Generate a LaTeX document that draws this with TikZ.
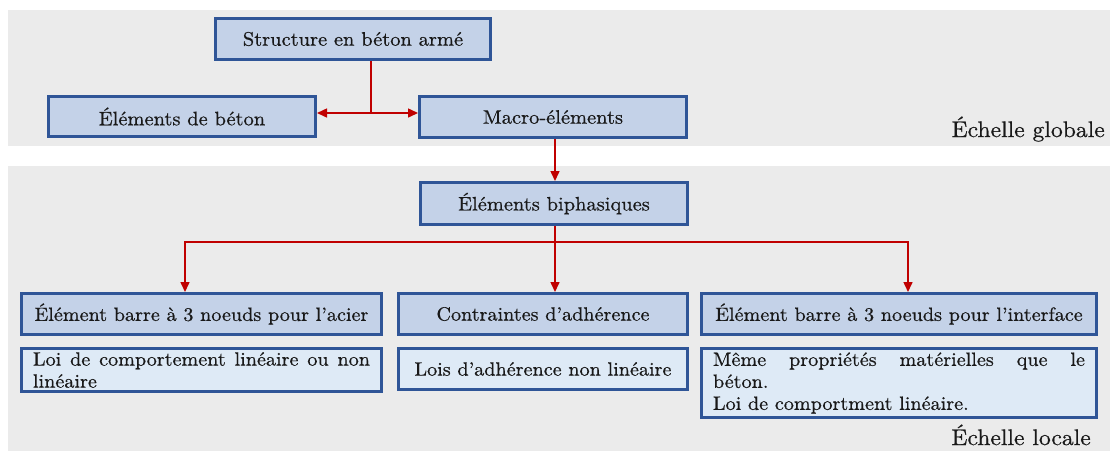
\documentclass[tikz,border=0pt]{standalone}
\usepackage{fontspec}
\setmainfont{lmroman10-regular.otf}[FakeStretch=1.05,FakeBold=0.6]
\usetikzlibrary{arrows.meta}
\definecolor{bdr}{RGB}{47,85,151}
\definecolor{fillA}{RGB}{196,210,232}
\definecolor{fillB}{RGB}{222,234,246}
\definecolor{panel}{RGB}{235,235,235}
\definecolor{arr}{RGB}{192,0,0}
\definecolor{txt}{RGB}{25,25,25}
\tikzset{
  boxA/.style={draw=bdr, line width=3pt, fill=fillA, inner sep=0pt, text=txt, font=\fontsize{19.5}{23}\selectfont},
  boxL/.style={draw=bdr, line width=3pt, fill=fillA, inner sep=0pt, text=txt, font=\fontsize{19.2}{22}\selectfont},
  boxT/.style={draw=bdr, line width=3pt, fill=fillB, inner xsep=11.5pt, inner ysep=0pt, align=justify, text=txt, font=\fontsize{19.2}{22}\selectfont},
  conn/.style={draw=arr, line width=1.5pt},
  connA/.style={conn, -{Triangle[length=10pt,width=9pt]}},
  scalelbl/.style={font=\fontsize{22.5}{26}\selectfont, text=txt, anchor=base east, inner sep=0pt}
}
\begin{document}
\begin{tikzpicture}[x=1pt,y=-1pt]
\useasboundingbox (0,0) rectangle (1110,451);
\fill[white] (0,0) rectangle (1110,451);
\fill[panel] (8,10) rectangle (1110,146);
\fill[panel] (8,166) rectangle (1110,451);

\node[boxA, minimum width=275pt, minimum height=41pt] (S) at (353,39) {Structure en béton armé};
\node[boxA, minimum width=267pt, minimum height=40pt] (EB) at (182,116.5) {Éléments de béton};
\node[boxA, minimum width=267pt, minimum height=41pt] (ME) at (553,117) {Macro-éléments};
\node[boxA, minimum width=267pt, minimum height=42pt] (BI) at (554,203.5) {Éléments biphasiques};

\node[boxL, minimum width=360pt, minimum height=41pt] (A1) at (201.5,314) {Élément barre à 3 noeuds pour l’acier};
\node[boxL, minimum width=289pt, minimum height=41pt] (A2) at (543,314) {Contraintes d’adhérence};
\node[boxL, minimum width=395pt, minimum height=41pt] (A3) at (899,314) {Élément barre à 3 noeuds pour l’interface};

\node[boxT, text width=337pt, minimum height=43pt] (B1) at (201.5,370) {Loi de comportement linéaire ou non\linebreak linéaire};
\node[boxT, align=center, minimum width=289pt, minimum height=41pt, inner xsep=0pt] (B2) at (543,369) {Lois d’adhérence non linéaire};
\node[boxT, text width=372pt, minimum height=69pt] (B3) at (899,383) {Même propriétés matérielles que le\linebreak béton.\\Loi de comportment linéaire.};

\node[scalelbl] (G) at (1105,137) {Échelle globale};
\node[scalelbl] (L) at (1091,445) {Échelle locale};

\coordinate (j) at (371,113);
\draw[conn] (S.south -| j) -- (j);
\draw[connA] (j) -- (EB.east |- j);
\draw[connA] (j) -- (ME.west |- j);

\coordinate (m) at (555,160);
\draw[connA] (ME.south -| m) -- (BI.north -| m);

\coordinate (k) at (555,242);
\coordinate (kL) at (185,242);
\coordinate (kR) at (908,242);
\draw[conn] (BI.south -| k) -- (k);
\draw[connA] (k) -- (A2.north -| k);
\draw[connA] (k) -- (kL) -- (A1.north -| kL);
\draw[connA] (k) -- (kR) -- (A3.north -| kR);
\end{tikzpicture}
\end{document}
